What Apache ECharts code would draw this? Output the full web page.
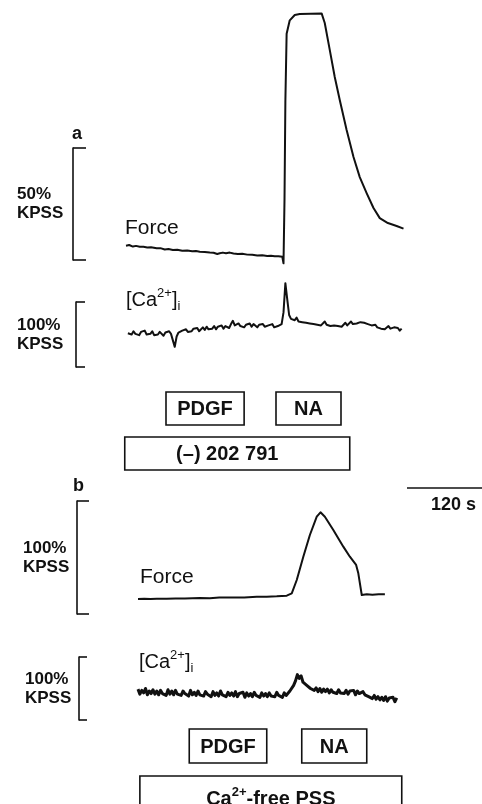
<!DOCTYPE html>
<html>
<head>
<meta charset="utf-8">
<title>Force and [Ca2+]i traces</title>
<script src="https://cdn.jsdelivr.net/npm/echarts@6/dist/echarts.min.js"></script>
<style>html,body{margin:0;padding:0;background:#fff;}</style>
</head>
<body>
<div id="main" style="width:482px;height:804px;"></div>
<script type="text/javascript">
var FONT = '"Liberation Sans", Arial, Helvetica, sans-serif';
var INK = '#111';

// panel a, force (time s, % KPSS)
var forceATime = [0,5,11,16,22,28,34,40,49,55,62,68,75,82,90,98,106,112,118,126,134,140,146,150,155,160,166,172,179,186,194,202,210,218,226,232,238,244,250,252,253.6,255,257,262,270,278,313,318,326,334,342,353,364,374,385,396,406,419,433,444];
var forceAValue = [6.4,6.7,6.0,6.3,5.9,5.9,5.6,5.7,5.2,5.3,4.7,4.9,4.5,4.6,4.1,4.2,3.9,4.0,3.7,3.6,3.3,3.2,2.7,3.0,3.3,3.0,3.3,2.9,2.7,2.8,2.4,2.3,2.0,2.1,1.8,1.9,1.7,1.7,1.5,-1.5,26.8,71,101,107,109.4,109.8,110.1,105.8,93.8,81.7,71.4,58,46,37,29.9,23.2,18.7,16.5,15.2,14.0];

// panel a, [Ca2+]i, sampled every 3 s from t = 3 s
var caAStart = 3, caAStep = 3;
var caAValue = [52,54,50,55,51,53,49,54,52,56,50,53,51,55,49,52,50,54,51,48,53,50,55,51,52,
  31,47,53,51,56,53,58,54,57,55,59,56,60,55,58,61,57,62,58,61,59,63,58,62,60,64,59,63,61,60,
  66,71,64,62,67,63,66,61,65,63,67,62,66,64,61,65,63,66,62,60,64,62,66,61,59,63,60,66,84,129,
  104,80,74,77,72,76,70,73,69,72,68,71,67,70,66,69,65,68,64,67,70,65,68,63,66,64,67,63,66,62,
  65,68,64,67,70,66,63,67,65,69,72,68,71,66,69,64,62,65,61,63,59,62,58,61,63,59,57,61,58,60,56,59];

// panel b, force
var forceBTime = [0,10,20,30,46,60,75,99,115,130,152,170,190,206,222,238,246,254,264.5,275,286,292,299,312.5,328.5,339,349,352.5,358,366,375,385,395];
var forceBValue = [13.3,13.6,13.2,13.6,13.5,13.8,13.7,14.2,14.0,14.5,14.7,14.6,15.2,15.3,15.6,16.2,18.3,30.1,50.7,69.9,86.1,90,86.1,74.3,59.6,50.7,43.4,36,16.8,17.4,17.0,17.4,17.4];

// panel b, [Ca2+]i, sampled every 3 s from t = 0 s
var caBStart = 0, caBStep = 3;
var caBValue = [49,41,47,43,50,40,46,42,48,41, 46,40,47,42,45,39,48,41,46,40,
  47,41,44,39,46,42,45,38,47,40, 44,39,46,40,43,38,45,41,44,37,
  45,39,43,38,46,40,42,37,44,39, 43,38,45,37,42,39,44,36,43,38,
  42,37,44,39,41,36,43,38,42,37, 43,38,41,37,44,39,42,36,43,39,
  41,46,44,55,62,72,66,70,60,63, 55,58,50,53,47,51,45,50,44,49,
  45,49,43,48,44,47,42,48,43,46, 42,47,41,46,43,47,40,46,42,45,
  45,40,43,37,40,34,39,33,37,32, 36,31,37,30,35,32,36,29,35];

// drug application bars [label, from s, to s]
var barsA = [['PDGF', 64, 189], ['NA', 240, 344], ['(\u2013) 202 791', -2, 358]];
var barsB = [['PDGF', 82, 206], ['NA', 262, 366], ['Ca{sup|2+}-free PSS', 3, 422]];

var scaleSeconds = 120;
var scaleLabels = ['50%\nKPSS', '100%\nKPSS', '100%\nKPSS', '100%\nKPSS'];
var scaleMax = [50, 100, 100, 100];

function sampled(start, step, vals) {
  return vals.map(function (v, i) { return [start + i * step, v]; });
}
function paired(ts, vs) {
  return ts.map(function (t, i) { return [t, vs[i]]; });
}

var myChart = echarts.init(document.getElementById('main'));

var SEC_PX = 75 / 120; // px per second
var grids = [
  {left: 126, top: 148, width: 444 * SEC_PX, height: 112},
  {left: 126, top: 302, width: 444 * SEC_PX, height: 65},
  {left: 138, top: 501, width: 420 * SEC_PX, height: 113},
  {left: 138, top: 657, width: 420 * SEC_PX, height: 63}
];
var xMax = [444, 444, 420, 420];
var barX = [73, 76, 77, 79];
var tickLen = [13, 9, 12, 8];
var textLeft = [17, 17, 23, 25];
var namePad = [[0, 0, 5, 0], [19, 0, 0, 0], [0, 0, 0, 0], [0, 0, 0, 0]];

var xAxes = [], yAxes = [];
for (var g = 0; g < 4; g++) {
  xAxes.push({gridIndex: g, type: 'value', min: 0, max: xMax[g], show: false});
  yAxes.push({
    gridIndex: g, type: 'value', min: 0, max: scaleMax[g], interval: scaleMax[g],
    position: 'left', offset: grids[g].left - barX[g],
    axisLine: {show: true, onZero: false, lineStyle: {color: INK, width: 1.6}},
    axisTick: {show: true, inside: true, length: tickLen[g], lineStyle: {color: INK, width: 1.6}},
    axisLabel: {show: false},
    splitLine: {show: false},
    name: scaleLabels[g], nameLocation: 'middle', nameRotate: 0,
    nameGap: barX[g] - textLeft[g],
    nameTextStyle: {
      align: 'left', verticalAlign: 'middle', color: INK,
      fontFamily: FONT, fontWeight: 'bold', fontSize: 17, lineHeight: 19,
      padding: namePad[g]
    }
  });
}

function trace(g, data, w) {
  return {
    type: 'line', xAxisIndex: g, yAxisIndex: g, data: data,
    showSymbol: false, clip: false, silent: true,
    lineStyle: {color: INK, width: w, join: 'round'}
  };
}

option = {
  animation: false,
  backgroundColor: '#fff',
  grid: grids,
  xAxis: xAxes,
  yAxis: yAxes,
  series: [
    trace(0, paired(forceATime, forceAValue), 2),
    trace(1, sampled(caAStart, caAStep, caAValue), 2),
    trace(2, paired(forceBTime, forceBValue), 2),
    trace(3, sampled(caBStart, caBStep, caBValue), 3)
  ]
};
myChart.setOption(option);

// annotations placed through the time axes
function px(g, t) { return myChart.convertToPixel({gridIndex: g}, [t, 0])[0]; }

var graphics = [];
function label(x, y, text, size, weight, align) {
  graphics.push({
    type: 'text', silent: true,
    style: {x: x, y: y, text: text, fill: INK, align: align || 'left', verticalAlign: 'middle',
      font: (weight || 'normal') + ' ' + size + 'px ' + FONT, lineHeight: size + 6,
      rich: {
        sup: {fontSize: 13, fontWeight: weight || 'normal', verticalAlign: 'top', lineHeight: 14},
        sub: {fontSize: 13, fontWeight: 'normal', verticalAlign: 'bottom', lineHeight: 11}
      }}
  });
}
function box(g, bar, top, bottom, size, dx) {
  var x0 = px(g, bar[1]), x1 = px(g, bar[2]);
  graphics.push({
    type: 'rect', silent: true,
    shape: {x: x0, y: top, width: x1 - x0, height: bottom - top},
    style: {fill: 'none', stroke: INK, lineWidth: 1.6}
  });
  label((x0 + x1) / 2 + (dx || 0), (top + bottom) / 2 + 1, bar[0], size, 'bold', 'center');
}

label(72, 134, 'a', 18, 'bold');
label(73, 486, 'b', 18, 'bold');
label(125, 228, 'Force', 21);
label(126, 300, '[Ca{sup|2+}]{sub|i}', 20);
label(140, 577, 'Force', 21);
label(139, 662, '[Ca{sup|2+}]{sub|i}', 20);

box(0, barsA[0], 392, 425, 20);
box(0, barsA[1], 392, 425, 20);
box(0, barsA[2], 437, 470, 20, -10);
box(2, barsB[0], 729, 763, 20);
box(2, barsB[1], 729, 763, 20);
box(2, barsB[2], 776, 820, 20);

// 120 s time bar, length taken from panel b time axis
var sb0 = 407, sbLen = px(2, scaleSeconds) - px(2, 0);
graphics.push({
  type: 'line', silent: true,
  shape: {x1: sb0, y1: 488, x2: sb0 + sbLen, y2: 488},
  style: {stroke: INK, lineWidth: 1.6}
});
label(sb0 + sbLen / 2 + 9, 505, scaleSeconds + ' s', 18, 'bold', 'center');

myChart.setOption({graphic: graphics});
</script>
</body>
</html>
